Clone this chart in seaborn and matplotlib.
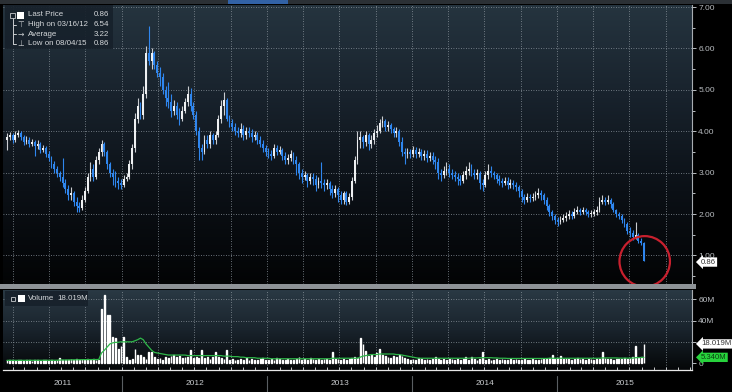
import numpy as np
import pandas as pd
import matplotlib
matplotlib.use("Agg")
import matplotlib.pyplot as plt
import matplotlib.dates as mdates
import matplotlib.transforms as mtransforms
from matplotlib.patches import Ellipse, Rectangle
from matplotlib.lines import Line2D
from matplotlib.colors import LinearSegmentedColormap
import seaborn as sns

# ---------------- data (weekly bars, week ending Friday) ----------------
week_ending = pd.date_range(end="2015-08-07", periods=230, freq="W-FRI")

price_open = [3.80,3.85,3.90,3.80,3.92,3.95,3.85,3.75,3.80,3.70,
 3.75,3.65,3.70,3.55,3.60,3.45,3.35,3.20,3.10,3.00,
 2.90,2.75,2.60,2.45,2.50,2.30,2.20,2.15,2.35,2.55,
 2.90,3.10,2.90,3.30,3.50,3.70,3.50,3.20,3.00,2.90,
 2.80,2.75,2.70,2.85,2.90,3.20,3.60,4.30,4.60,4.40,
 4.90,5.90,5.70,5.90,5.60,5.40,5.30,5.00,4.80,4.70,
 4.50,4.60,4.40,4.30,4.50,4.70,4.90,4.60,4.40,4.00,
 3.60,3.50,3.80,3.70,3.90,3.80,3.90,4.30,4.60,4.75,
 4.30,4.20,4.10,4.00,3.95,4.05,3.90,4.00,3.95,3.85,
 3.90,3.80,3.70,3.60,3.50,3.45,3.40,3.60,3.50,3.55,
 3.40,3.30,3.35,3.45,3.30,3.20,3.00,2.90,2.95,2.80,
 2.90,2.85,2.70,2.80,2.75,2.70,2.75,2.60,2.50,2.60,
 2.45,2.35,2.50,2.30,2.40,2.80,3.30,3.80,3.85,3.75,
 3.90,3.70,3.80,3.95,4.00,4.20,4.25,4.10,4.15,4.05,
 3.95,4.00,3.75,3.50,3.45,3.50,3.45,3.55,3.45,3.50,
 3.40,3.45,3.35,3.40,3.30,3.25,3.00,2.95,3.05,3.10,
 3.00,2.95,2.90,2.85,2.80,2.95,3.05,3.10,3.00,2.95,
 3.00,2.75,2.70,2.95,3.05,3.00,2.95,2.85,2.80,2.75,
 2.80,2.70,2.75,2.70,2.65,2.55,2.40,2.35,2.40,2.38,
 2.42,2.45,2.50,2.45,2.35,2.20,2.05,1.95,1.85,1.80,
 1.85,1.90,1.95,2.00,1.95,2.05,2.10,2.05,2.10,2.05,
 2.00,2.00,2.05,2.10,2.30,2.35,2.30,2.35,2.25,2.10,
 2.00,1.95,1.85,1.75,1.60,1.55,1.45,1.50,1.35,1.30]

price_high = [3.95,3.98,3.96,4.00,4.02,4.00,3.90,3.88,3.85,3.82,
 3.80,3.78,3.75,3.68,3.65,3.52,3.40,3.28,3.15,3.05,
 3.35,2.85,2.70,2.65,2.55,2.40,2.30,2.45,2.65,3.00,
 3.25,3.20,3.40,3.60,3.80,3.75,3.55,3.25,3.10,3.05,
 2.90,2.85,2.95,3.00,3.30,3.70,4.45,4.80,4.70,5.10,
 6.05,6.54,6.00,5.95,5.70,5.55,5.40,5.10,5.20,4.90,
 4.75,4.70,4.55,4.60,4.80,5.10,5.05,4.70,4.50,4.10,
 3.70,3.90,3.90,4.00,3.95,4.00,4.40,4.75,4.95,4.80,
 4.40,4.30,4.20,4.10,4.20,4.15,4.10,4.10,4.05,4.00,
 3.98,3.88,3.78,3.68,3.60,3.55,3.70,3.68,3.65,3.60,
 3.50,3.45,3.55,3.50,3.40,3.25,3.10,3.05,3.00,3.00,
 3.00,2.95,2.90,3.25,2.85,2.85,2.80,2.70,2.70,2.65,
 2.55,2.55,2.55,2.50,2.90,3.40,4.00,4.00,3.90,4.00,
 3.95,3.90,4.05,4.15,4.30,4.38,4.30,4.25,4.20,4.10,
 4.10,4.05,3.85,3.60,3.60,3.58,3.65,3.62,3.60,3.58,
 3.55,3.55,3.50,3.50,3.40,3.35,3.10,3.15,3.25,3.20,
 3.10,3.05,3.00,2.95,3.05,3.15,3.25,3.20,3.10,3.10,
 3.05,2.85,3.05,3.20,3.15,3.05,3.00,2.95,2.88,2.90,
 2.90,2.85,2.82,2.78,2.70,2.60,2.48,2.50,2.48,2.52,
 2.55,2.62,2.58,2.50,2.40,2.25,2.10,2.00,1.92,1.95,
 2.00,2.05,2.10,2.08,2.15,2.20,2.15,2.18,2.15,2.10,
 2.10,2.12,2.20,2.40,2.45,2.42,2.45,2.38,2.28,2.12,
 2.05,2.00,1.90,1.80,1.68,1.62,1.80,1.55,1.42,1.32]

price_low = [3.55,3.78,3.72,3.75,3.85,3.80,3.68,3.70,3.62,3.65,
 3.40,3.58,3.48,3.50,3.38,3.28,3.12,3.00,2.90,2.80,
 2.65,2.50,2.35,2.35,2.20,2.05,2.05,2.10,2.30,2.50,
 2.80,2.80,2.85,3.20,3.40,3.40,3.10,2.90,2.70,2.65,
 2.60,2.60,2.65,2.80,2.85,3.10,3.50,4.20,4.30,4.30,
 4.80,5.60,5.50,5.50,5.30,5.10,4.90,4.60,4.55,4.35,
 4.40,4.30,4.15,4.25,4.45,4.60,4.50,4.30,3.90,3.30,
 3.30,3.45,3.60,3.60,3.70,3.70,3.85,4.20,4.40,4.25,
 4.10,4.00,3.90,3.85,3.85,3.80,3.82,3.85,3.75,3.78,
 3.70,3.62,3.50,3.40,3.35,3.30,3.35,3.42,3.45,3.30,
 3.20,3.22,3.28,3.20,2.95,2.85,2.75,2.82,2.65,2.72,
 2.70,2.55,2.62,2.62,2.55,2.60,2.45,2.38,2.40,2.30,
 2.25,2.25,2.22,2.25,2.35,2.75,3.20,3.60,3.60,3.65,
 3.55,3.60,3.70,3.85,3.95,4.10,4.00,4.00,3.95,3.85,
 3.85,3.65,3.40,3.20,3.35,3.35,3.38,3.35,3.38,3.30,
 3.30,3.25,3.28,3.20,3.10,2.85,2.80,2.88,2.95,2.90,
 2.85,2.80,2.70,2.70,2.75,2.85,2.95,2.92,2.85,2.85,
 2.60,2.55,2.65,2.85,2.90,2.85,2.75,2.70,2.65,2.70,
 2.60,2.62,2.60,2.55,2.40,2.30,2.25,2.28,2.28,2.32,
 2.35,2.38,2.35,2.25,2.10,1.95,1.85,1.75,1.72,1.75,
 1.80,1.82,1.88,1.88,1.90,2.00,1.98,2.00,1.98,1.92,
 1.92,1.95,1.98,2.05,2.25,2.22,2.25,2.15,2.05,1.92,
 1.88,1.78,1.68,1.52,1.45,1.38,1.40,1.30,1.25,0.86]

price_close = [3.85,3.90,3.80,3.92,3.95,3.85,3.75,3.80,3.70,3.75,
 3.65,3.70,3.55,3.60,3.45,3.35,3.20,3.10,3.00,2.90,
 2.75,2.60,2.45,2.50,2.30,2.20,2.15,2.35,2.55,2.90,
 3.10,2.90,3.30,3.50,3.70,3.50,3.20,3.00,2.90,2.80,
 2.75,2.70,2.85,2.90,3.20,3.60,4.30,4.60,4.40,4.90,
 5.90,5.70,5.90,5.60,5.40,5.30,5.00,4.80,4.70,4.50,
 4.60,4.40,4.30,4.50,4.70,4.90,4.60,4.40,4.00,3.60,
 3.50,3.80,3.70,3.90,3.80,3.90,4.30,4.60,4.75,4.30,
 4.20,4.10,4.00,3.95,4.05,3.90,4.00,3.95,3.85,3.90,
 3.80,3.70,3.60,3.50,3.45,3.40,3.60,3.50,3.55,3.40,
 3.30,3.35,3.45,3.30,3.20,3.00,2.90,2.95,2.80,2.90,
 2.85,2.70,2.80,2.75,2.70,2.75,2.60,2.50,2.60,2.45,
 2.35,2.50,2.30,2.40,2.80,3.30,3.80,3.85,3.75,3.90,
 3.70,3.80,3.95,4.00,4.20,4.25,4.10,4.15,4.05,3.95,
 4.00,3.75,3.50,3.45,3.50,3.45,3.55,3.45,3.50,3.40,
 3.45,3.35,3.40,3.30,3.25,3.00,2.95,3.05,3.10,3.00,
 2.95,2.90,2.85,2.80,2.95,3.05,3.10,3.00,2.95,3.00,
 2.75,2.70,2.95,3.05,3.00,2.95,2.85,2.80,2.75,2.80,
 2.70,2.75,2.70,2.65,2.55,2.40,2.35,2.40,2.38,2.42,
 2.45,2.50,2.45,2.35,2.20,2.05,1.95,1.85,1.80,1.85,
 1.90,1.95,2.00,1.95,2.05,2.10,2.05,2.10,2.05,2.00,
 2.00,2.05,2.10,2.30,2.35,2.30,2.35,2.25,2.10,2.00,
 1.95,1.85,1.75,1.60,1.55,1.45,1.50,1.35,1.30,0.86]

volume_m = [2.5,3,2.5,2,3,2.5,2,3,2.5,2,
 2.5,3,2,2.5,3,2,2.5,2,3,5,
 3,2.5,3,4,3,3.5,3,4,3,3.5,
 3,4,3,2.5,51,64,45,45,25,24,
 13,16,25,6,3,4,13,8,8,6,
 4,10,10,6,4,5,3,6,5,7,
 8,6,7,5,6,6,12,5,6,5,
 12,5,6,4,6,10,6,5,4,12,
 3,4,3,3,4,3,5,3,4,3,
 3,4,5,3,3,4,3,5,4,3,
 3,4,3,3,4,6,3,4,3,5,
 4,3,4,3,4,4,3,10,4,4,
 3,4,3,4,5,6,5,24,18,11,
 7,8,6,9,13,8,7,6,5,7,
 6,8,7,5,4,3,4,3,5,4,
 3,4,3,4,6,4,3,4,3,4,
 4,3,4,3,4,6,3,6,4,3,
 4,10,3,4,3,3,4,3,4,3,
 3,4,3,4,3,3,4,3,3,4,
 3,3,4,4,4,5,8,4,5,7,
 4,5,4,3,4,5,4,4,3,4,
 4,3,4,4,10,5,4,4,3,4,
 4,4,5,4,5,6,16,5,6,18.019]

volume_avg_m = [2.5,2.5,2.5,2.5,2.5,2.5,2.5,2.5,2.5,2.5,
 2.5,2.5,2.5,2.5,2.5,2.5,2.5,2.5,2.6,2.8,
 2.8,2.8,2.9,3.0,3.0,3.0,3.1,3.2,3.2,3.2,
 3.2,3.3,3.3,3.3,9.5,12,15,18,19,19.5,
 19.5,20,20,20,20,20,21,22,23.5,22,
 18,15,12,10,9.5,9,8.5,8,7.5,7.5,
 7.5,7.5,7.5,7.5,7.5,7,7,7,7,7,
 7,7,7,7,7,7,7,7,6.5,6.5,
 6.5,6,6,6,5.5,5.5,5,5,5,5,
 4.5,4.5,4.5,4.5,4.5,4,4,4,4,4,
 4,4,4,4,4,4,4,4,4,4,
 4,4,4,4,4,4,4,4.5,4.5,4.5,
 4.5,4.5,4.5,4.5,4.5,4.5,4.5,5.5,6.5,7,
 7.5,8,8,8,8.5,8.5,8.5,8.5,8.5,8.5,
 8,8,7.5,7,6.5,6,5.5,5,4.5,4.5,
 4.5,4.5,4.5,4.5,4.5,4.5,4.5,4.5,4.5,4.5,
 4.5,4.5,4.5,4.5,4.5,4.5,4.5,4.8,4.8,4.8,
 5,5,5,5,5,4.8,4.8,4.5,4.5,4.5,
 4.3,4.3,4.3,4.3,4.3,4.3,4.3,4.3,4.3,4.3,
 4.3,4.3,4.3,4.3,4.3,4.5,4.5,4.5,4.5,4.6,
 4.6,4.6,4.6,4.6,4.6,4.5,4.5,4.5,4.5,4.5,
 4.5,4.5,4.5,4.5,4.8,4.8,4.8,4.8,4.8,4.8,
 4.6,4.6,4.6,4.6,4.6,4.6,5.0,5.1,5.2,5.34]

price_ticks = [1, 2, 3, 4, 5, 6, 7]
volume_ticks = [0, 20, 40, 60]
volume_tick_labels = ["0", "", "40M", "60M"]   # 20M sits under the 18.019M tag
year_labels = ["2011", "2012", "2013", "2014", "2015"]
legend_rows = [("Last Price", "0.86"), ("High on 03/16/12", "6.54"),
               ("Average", "3.22"), ("Low on 08/04/15", "0.86")]
last_price_label = "0.86"
volume_label = "18.019M"
volume_avg_label = "5.340M"

# ---------------- style ----------------
sns.set_theme(style="dark")
plt.rcParams["font.family"] = ["Liberation Sans", "DejaVu Sans"]

W, H = 732, 392
def fx(x): return x / W
def fy(y): return 1 - y / H

fig = plt.figure(figsize=(W / 100, H / 100), dpi=100, facecolor="black")
ax1 = fig.add_axes([fx(3), fy(284), (692 - 3) / W, (284 - 5) / H])
ax2 = fig.add_axes([fx(3), fy(370), (692 - 3) / W, (370 - 290) / H])

df = pd.DataFrame({"date": week_ending, "open": price_open, "high": price_high,
                   "low": price_low, "close": price_close,
                   "volume": volume_m, "vol_avg": volume_avg_m})
df["x"] = mdates.date2num(df["date"])

x0 = mdates.date2num(pd.Timestamp("2011-03-08"))
x1 = mdates.date2num(pd.Timestamp("2015-12-06"))

grad = np.linspace(0, 1, 256).reshape(-1, 1)
cmap_main = LinearSegmentedColormap.from_list("bgm", ["#25343f", "#18222c", "#0b1016", "#030405"])
cmap_vol = LinearSegmentedColormap.from_list("bgv", ["#2a3944", "#19232c", "#050708"])
for ax, cm in ((ax1, cmap_main), (ax2, cmap_vol)):
    ax.set_facecolor("black")
    ax.imshow(grad, cmap=cm, aspect="auto", extent=[0, 1, 0, 1],
              transform=ax.transAxes, zorder=0, interpolation="bicubic")
    for s in ("left", "top", "bottom"):
        ax.spines[s].set_visible(False)
    ax.spines["right"].set_color("#a8adb2")
    ax.spines["right"].set_linewidth(0.8)

grid_kw = dict(color="#8a949c", lw=0.6, ls=(0, (1, 2)), zorder=1)
quarters = pd.date_range("2011-04-01", "2015-10-01", freq="QS")
for q in mdates.date2num(quarters):
    ax1.axvline(q, **grid_kw)
    ax2.axvline(q, **grid_kw)
for p in price_ticks:
    ax1.axhline(p, **grid_kw)
for v in volume_ticks[1:]:
    ax2.axhline(v, **grid_kw)

# ---------------- candles ----------------
up = df["close"] >= df["open"]
col = np.where(up, "#eef0f2", "#2f86ee")
ax1.vlines(df["x"], df["low"], df["high"], colors=np.where(up, "#c9ccd0", "#2f86ee"),
           lw=0.8, zorder=3)
body_lo = np.minimum(df["open"], df["close"])
body_h = np.maximum(np.abs(df["close"] - df["open"]), 0.03)
ax1.bar(df["x"], body_h, bottom=body_lo, width=4.6, color=col, lw=0, zorder=4)

ax1.set_xlim(x0, x1)
ax1.set_ylim(0.31, 7.05)
ax1.set_xticks([])
ax1.yaxis.tick_right()
ax1.set_yticks(price_ticks)
ax1.set_yticklabels([f"{p:.2f}" for p in price_ticks])
ax1.set_yticks(np.arange(0.5, 7.01, 1.0), minor=True)
ax1.tick_params(axis="y", which="both", colors="#b8bcc0", labelsize=6.0,
                length=3, width=0.7, pad=1.5, direction="out", right=True, left=False)
ax1.tick_params(axis="y", which="minor", length=2)

# red circle around the last bar
ax1.add_patch(Ellipse((df["x"].iloc[-1] + 2, 0.857), width=127, height=1.22,
                      fill=False, ec="#c8202e", lw=1.6, zorder=6, clip_on=False))

# last price tag
tag_kw = dict(fontsize=5.6, ha="left", va="center", zorder=10, clip_on=False)
blend1 = mtransforms.blended_transform_factory(ax1.transAxes, ax1.transData)
ax1.text(1.013, 0.84, last_price_label, transform=blend1, color="#333333",
         bbox=dict(boxstyle="larrow,pad=0.15", fc="white", ec="none"), **tag_kw)

# ---------------- volume ----------------
sns.barplot(data=df, x="x", y="volume", native_scale=True, width=0.3,
            color="#e6e8ea", saturation=1, errorbar=None, ax=ax2, zorder=3)
sns.lineplot(data=df, x="x", y="vol_avg", color="#2fb84a", lw=0.9, ax=ax2, zorder=4)
ax2.set_xlim(x0, x1)
ax2.set_ylim(-6.6, 68.9)
ax2.set_xlabel("")
ax2.set_ylabel("")
ax2.yaxis.tick_right()
ax2.set_yticks(volume_ticks)
ax2.set_yticklabels(volume_tick_labels)
ax2.tick_params(axis="y", colors="#b8bcc0", labelsize=6.0, length=3, width=0.7,
                pad=1.5, right=True, left=False)
ax2.spines["bottom"].set_visible(True)
ax2.spines["bottom"].set_color("#e8e8e8")
ax2.spines["bottom"].set_linewidth(0.9)
ax2.xaxis.set_major_locator(mdates.MonthLocator())
ax2.xaxis.set_major_formatter(plt.NullFormatter())
ax2.tick_params(axis="x", colors="#e8e8e8", length=2.5, width=0.6, direction="in",
                bottom=True)

blend2 = mtransforms.blended_transform_factory(ax2.transAxes, ax2.transData)
ax2.text(1.013, 18.019, volume_label, transform=blend2, color="#333333",
         bbox=dict(boxstyle="larrow,pad=0.15", fc="white", ec="none"), **tag_kw)
ax2.text(1.013, 5.34, volume_avg_label, transform=blend2, color="#0c3d10",
         bbox=dict(boxstyle="larrow,pad=0.15", fc="#27d23c", ec="none"), **tag_kw)

# years along the bottom
year_starts = [mdates.date2num(pd.Timestamp(f"{y}-01-01")) for y in (2012, 2013, 2014, 2015)]
bounds = [x0] + year_starts + [x1]
blend_x = mtransforms.blended_transform_factory(ax2.transData, ax2.transAxes)
for i, lab in enumerate(year_labels):
    ax2.text((bounds[i] + bounds[i + 1]) / 2, -0.165, lab, transform=blend_x,
             fontsize=6.0, color="#c8cbce", ha="center", va="center", clip_on=False)
for ys in year_starts:
    ax2.add_line(Line2D([ys, ys], [-0.08, -0.3], transform=blend_x, color="#5a5e62",
                        lw=0.8, clip_on=False))

# ---------------- chrome ----------------
fig.add_artist(Rectangle((0, fy(4)), 1, 4 / H, transform=fig.transFigure,
                         fc="#2b3035", ec="none", zorder=5))
fig.add_artist(Rectangle((fx(228), fy(3.5)), 60 / W, 3.5 / H, transform=fig.transFigure,
                         fc="#3262a6", ec="none", zorder=6))
fig.add_artist(Rectangle((0, fy(289)), fx(696), 5 / H, transform=fig.transFigure,
                         fc="#8e9397", ec="none", zorder=5))

# price legend
fig.add_artist(Rectangle((fx(5), fy(49)), 108 / W, 44 / H, transform=fig.transFigure,
                         fc="#17212b", ec="none", alpha=0.92, zorder=7))
row_y = [15, 24.5, 34, 43.5]
txt_kw = dict(fontsize=5.7, color="#d4d7da", va="center", zorder=9)
for (lab, val), yy in zip(legend_rows, row_y):
    fig.text(fx(28), fy(yy), lab, ha="left", **txt_kw)
    fig.text(fx(109), fy(yy), val, ha="right", **txt_kw)
fig.add_artist(Line2D([fx(13), fx(13)], [fy(15), fy(43.5)], transform=fig.transFigure,
                      color="#c8cbce", lw=0.7, zorder=8))
for yy in row_y[1:]:
    fig.add_artist(Line2D([fx(13), fx(16)], [fy(yy), fy(yy)], transform=fig.transFigure,
                          color="#c8cbce", lw=0.7, zorder=8))
fig.add_artist(Rectangle((fx(10), fy(17.5)), 5 / W, 5 / H, transform=fig.transFigure,
                         fc="#17212b", ec="#c8cbce", lw=0.6, zorder=9))
fig.add_artist(Rectangle((fx(17), fy(19)), 7 / W, 7 / H, transform=fig.transFigure,
                         fc="white", ec="none", zorder=9))
sym_kw = dict(fontsize=5.5, color="#c8cbce", ha="center", va="center", zorder=9,
              family="DejaVu Sans")
fig.text(fx(21), fy(24.5), "⊤", **sym_kw)
fig.text(fx(21), fy(34), "→", **sym_kw)
fig.text(fx(21), fy(43.5), "⊥", **sym_kw)

# volume legend
fig.add_artist(Rectangle((fx(5), fy(306)), 83 / W, 15 / H, transform=fig.transFigure,
                         fc="#17212b", ec="none", alpha=0.92, zorder=7))
fig.add_artist(Rectangle((fx(11), fy(300.5)), 4 / W, 4 / H, transform=fig.transFigure,
                         fc="#17212b", ec="#c8cbce", lw=0.6, zorder=9))
fig.add_artist(Rectangle((fx(18), fy(302)), 7 / W, 7 / H, transform=fig.transFigure,
                         fc="white", ec="none", zorder=9))
fig.text(fx(28), fy(298.5), "Volume", ha="left", **txt_kw)
fig.text(fx(57), fy(298.5), volume_label, ha="left", **txt_kw)

fig.savefig("out.png", dpi=100, facecolor="black")
